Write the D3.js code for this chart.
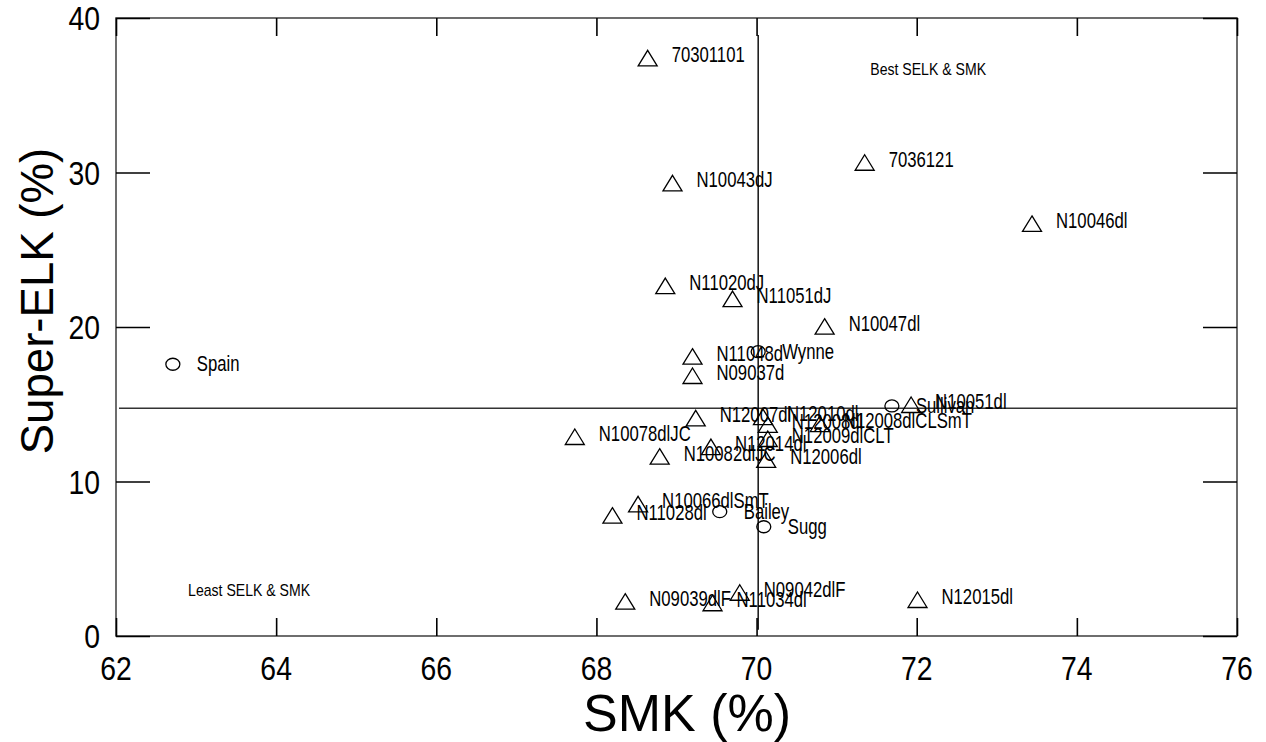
<!DOCTYPE html>
<html>
<head>
<meta charset="utf-8">
<script src="https://cdn.jsdelivr.net/npm/d3@7"></script>
<style>
  html, body { margin: 0; padding: 0; background: #fff; }
  svg { display: block; }
  text { font-family: "Liberation Sans", Arial, sans-serif; fill: #000; }
</style>
</head>
<body>
<svg id="chart" width="1266" height="742"></svg>
<script>
// Breeding lines: SMK (%) vs Super-ELK (%)
const lineNames = ["70301101", "7036121", "N10043dJ", "N10046dl", "N11020dJ", "N11051dJ",
  "N10047dl", "N11048d", "N09037d", "N12007dl", "N12010dl", "N12008dl", "N12008dlCLSmT",
  "N12009dlCLT", "N12014dl", "N12006dl", "N10051dl", "N10078dlJC", "N10082dlJC",
  "N10066dlSmT", "N11028dl", "N09039dlF", "N11034dl", "N09042dlF", "N12015dl"];
const lineSMK = [68.64, 71.35, 68.95, 73.44, 68.86, 69.70,
  70.85, 69.20, 69.20, 69.24, 70.08, 70.14, 70.79,
  70.14, 69.43, 70.12, 71.93, 67.73, 68.79,
  68.52, 68.20, 68.36, 69.45, 69.79, 72.01];
const lineSELK = [37.39, 30.63, 29.30, 26.67, 22.65, 21.81,
  20.02, 18.08, 16.83, 14.09, 14.17, 13.66, 13.72,
  12.75, 12.23, 11.40, 14.95, 12.88, 11.61,
  8.52, 7.79, 2.22, 2.12, 2.80, 2.33];

// Check cultivars
const checkNames = ["Spain", "Wynne", "Sullivan", "Bailey", "Sugg"];
const checkSMK = [62.71, 70.02, 71.69, 69.54, 70.09];
const checkSELK = [17.59, 18.40, 14.89, 8.05, 7.07];

// Axis ticks and reference values
const xTicks = [62, 64, 66, 68, 70, 72, 74, 76];
const yTicks = [0, 10, 20, 30, 40];
const meanSMK = 70.02;
const meanSELK = 14.74;
const cornerNotes = [
  { text: "Best SELK & SMK", x: 71.42, y: 36.7 },
  { text: "Least SELK & SMK", x: 62.9, y: 2.98 }
];

const svg = d3.select("#chart");
const plotL = 116, plotR = 1237, plotT = 18, plotB = 636;
const x = d3.scaleLinear().domain([62, 76]).range([plotL, plotR]);
const y = d3.scaleLinear().domain([0, 40]).range([plotB, plotT]);

// frame
svg.append("rect")
  .attr("x", plotL).attr("y", plotT)
  .attr("width", plotR - plotL).attr("height", plotB - plotT)
  .attr("fill", "none").attr("stroke", "#4a4a4a").attr("stroke-width", 1.6);

// inward ticks on all four sides
function tickAxis(axis, tx, ty) {
  const g = svg.append("g").attr("transform", `translate(${tx},${ty})`).call(axis);
  g.select(".domain").remove();
  g.selectAll(".tick text").remove();
  g.selectAll(".tick line").attr("stroke", "#000").attr("stroke-width", 1.6);
  return g;
}
tickAxis(d3.axisBottom(x).tickValues(xTicks).tickSize(-18), 0, plotB);
tickAxis(d3.axisTop(x).tickValues(xTicks).tickSize(-18), 0, plotT);
tickAxis(d3.axisLeft(y).tickValues(yTicks).tickSize(-34), plotL, 0);
tickAxis(d3.axisRight(y).tickValues(yTicks).tickSize(-34), plotR, 0);

// tick labels
svg.append("g").selectAll("text").data(xTicks).join("text")
  .attr("transform", d => `translate(${x(d)},${680}) scale(0.86,1)`)
  .attr("text-anchor", "middle")
  .attr("font-size", 33)
  .text(d => d);
svg.append("g").selectAll("text").data(yTicks).join("text")
  .attr("transform", d => `translate(${100},${y(d) + 12}) scale(0.86,1)`)
  .attr("text-anchor", "end")
  .attr("font-size", 33)
  .text(d => d);

// axis titles
svg.append("text")
  .attr("transform", `translate(${687},${731})`)
  .attr("text-anchor", "middle")
  .attr("font-size", 52)
  .text("SMK (%)");
svg.append("text")
  .attr("transform", `translate(${53},${301}) rotate(-90) scale(0.97,1)`)
  .attr("text-anchor", "middle")
  .attr("font-size", 47)
  .text("Super-ELK (%)");

// reference lines at the means
svg.append("line")
  .attr("x1", x(62) + 3).attr("x2", plotR)
  .attr("y1", y(meanSELK)).attr("y2", y(meanSELK))
  .attr("stroke", "#333").attr("stroke-width", 1.4);
svg.append("line")
  .attr("x1", x(meanSMK)).attr("x2", x(meanSMK))
  .attr("y1", y(38.9)).attr("y2", y(0.4))
  .attr("stroke", "#000").attr("stroke-width", 1.4);

// corner notes
svg.append("g").selectAll("text").data(cornerNotes).join("text")
  .attr("transform", d => `translate(${x(d.x)},${y(d.y) + 6}) scale(0.88,1)`)
  .attr("font-size", 16)
  .text(d => d.text);

const lines = lineNames.map((n, i) => ({ name: n, sx: lineSMK[i], sy: lineSELK[i] }));
const checks = checkNames.map((n, i) => ({ name: n, sx: checkSMK[i], sy: checkSELK[i] }));

// triangle markers
const tri = "M0,-8 L9.5,7.5 L-9.5,7.5 Z";
svg.append("g").selectAll("path").data(lines).join("path")
  .attr("d", tri)
  .attr("transform", d => `translate(${x(d.sx)},${y(d.sy)})`)
  .attr("fill", "none").attr("stroke", "#000").attr("stroke-width", 1.3);

// circle markers
svg.append("g").selectAll("ellipse").data(checks).join("ellipse")
  .attr("cx", d => x(d.sx)).attr("cy", d => y(d.sy))
  .attr("rx", 7).attr("ry", 6)
  .attr("fill", "none").attr("stroke", "#000").attr("stroke-width", 1.3);

// point labels
function labels(data, dy) {
  svg.append("g").selectAll("text").data(data).join("text")
    .attr("transform", d => `translate(${x(d.sx) + 24},${y(d.sy) + dy}) scale(0.76,1)`)
    .attr("font-size", 22)
    .text(d => d.name);
}
labels(lines, 4);
labels(checks, 7);
</script>
</body>
</html>
